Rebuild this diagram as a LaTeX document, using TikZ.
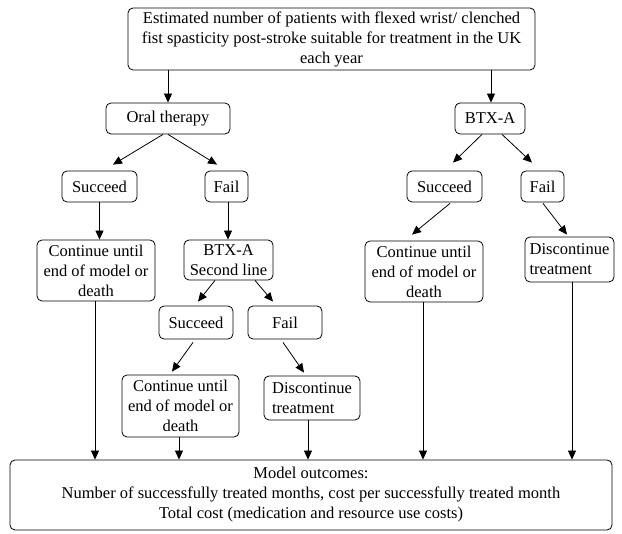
\documentclass[tikz,border=0pt]{standalone}
\usepackage{fontspec}
\setmainfont{Liberation Serif}
\usetikzlibrary{arrows.meta}
\begin{document}
\begin{tikzpicture}[x=1pt,y=-1pt,
  box/.style={draw=black, line width=0.8pt, rounded corners=5pt, inner sep=1pt,
    font=\fontsize{16.5}{20}\selectfont, align=center},
  boxl/.style={box, align=left},
  arr/.style={draw=black, line width=0.8pt, -{Triangle[width=8pt,length=9pt]}}]
\useasboundingbox (0,0) rectangle (622,534);
% nodes
\node[box, minimum width=407pt, minimum height=62pt] (top) at (331.5,39)
  {Estimated number of patients with flexed wrist/ clenched\\fist spasticity post-stroke suitable for treatment in the UK\\each year};
\node[box, minimum width=124pt, minimum height=31pt] (ot) at (168,118.5) {Oral therapy};
\node[box, minimum width=70pt, minimum height=31pt] (bt) at (490,118.5) {BTX-A};
\node[box, minimum width=75pt, minimum height=31pt] (s1) at (99.5,186.5) {Succeed};
\node[box, minimum width=43pt, minimum height=31pt] (f1) at (226.5,186.5) {Fail};
\node[box, minimum width=75pt, minimum height=31pt] (s3) at (444.5,186.5) {Succeed};
\node[box, minimum width=43pt, minimum height=31pt] (f3) at (542.5,186.5) {Fail};
\node[box, minimum width=118pt, minimum height=61pt] (c1) at (96,270.5) {Continue until\\end of model or\\death};
\node[box, minimum width=89pt, minimum height=40pt] (b2) at (228.5,260) {BTX-A\\Second line};
\node[box, minimum width=118pt, minimum height=61pt] (c3) at (424,271.5) {Continue until\\end of model or\\death};
\node[boxl, minimum width=89pt, minimum height=45pt] (d3) at (569.5,259.5) {Discontinue\\treatment};
\node[box, minimum width=74pt, minimum height=33pt] (s2) at (196,322.5) {Succeed};
\node[box, minimum width=74pt, minimum height=33pt] (f2) at (285,322.5) {Fail};
\node[box, minimum width=117pt, minimum height=62pt] (c2) at (180.5,406) {Continue until\\end of model or\\death};
\node[boxl, minimum width=96pt, minimum height=44pt] (d2) at (312,398) {Discontinue\\treatment};
\node[box, minimum width=602pt, minimum height=70pt] (m) at (311,495)
  {Model outcomes:\\Number of successfully treated months, cost per successfully treated month\\Total cost (medication and resource use costs)};
% connectors
\draw[arr] (top.south -| ot.north) -- (ot.north);
\draw[arr] ([xshift=1pt]top.south -| bt.north) -- ([xshift=1pt]bt.north);
\draw[arr] ([xshift=-5pt]ot.south) -- ([xshift=13.5pt,yshift=6pt]s1.north);
\draw[arr] (ot.south) -- ([xshift=-9.5pt,yshift=6pt]f1.north);
\draw[arr] (s1.south) -- (s1.south |- c1.north);
\draw[arr] ([xshift=1.5pt]f1.south) -- ([xshift=1.5pt]f1.south |- b2.north);
\draw[arr] ([xshift=-13.5pt]b2.south) -- ([xshift=2pt,yshift=4pt]s2.north);
\draw[arr] ([xshift=26.5pt]b2.south) -- ([xshift=-12pt,yshift=4pt]f2.north);
\draw[arr] ([xshift=-3pt,yshift=-3pt]s2.south) -- ([xshift=-8.5pt,yshift=3pt]c2.north);
\draw[arr] ([xshift=-2pt,yshift=-3pt]f2.south) -- ([xshift=-8pt,yshift=3pt]d2.north);
\draw[arr] ([xshift=-8pt]bt.south) -- ([xshift=8.5pt,yshift=8pt]s3.north);
\draw[arr] ([xshift=12pt]bt.south) -- ([xshift=-10.5pt,yshift=8pt]f3.north);
\draw[arr] ([xshift=5.5pt,yshift=-1pt]s3.south) -- ([xshift=-12pt,yshift=6pt]c3.north);
\draw[arr] ([xshift=0.5pt,yshift=-1pt]f3.south) -- ([xshift=-2.5pt,yshift=2pt]d3.north);
\draw[arr] ([xshift=-1pt]c1.south) -- ([xshift=-1pt]c1.south |- m.north);
\draw[arr] ([xshift=-1.5pt]c2.south) -- ([xshift=-1.5pt]c2.south |- m.north);
\draw[arr] ([xshift=-4pt]d2.south) -- ([xshift=-4pt]d2.south |- m.north);
\draw[arr] ([xshift=-1pt]c3.south) -- ([xshift=-1pt]c3.south |- m.north);
\draw[arr] ([xshift=2.5pt]d3.south) -- ([xshift=2.5pt]d3.south |- m.north);
\end{tikzpicture}
\end{document}
